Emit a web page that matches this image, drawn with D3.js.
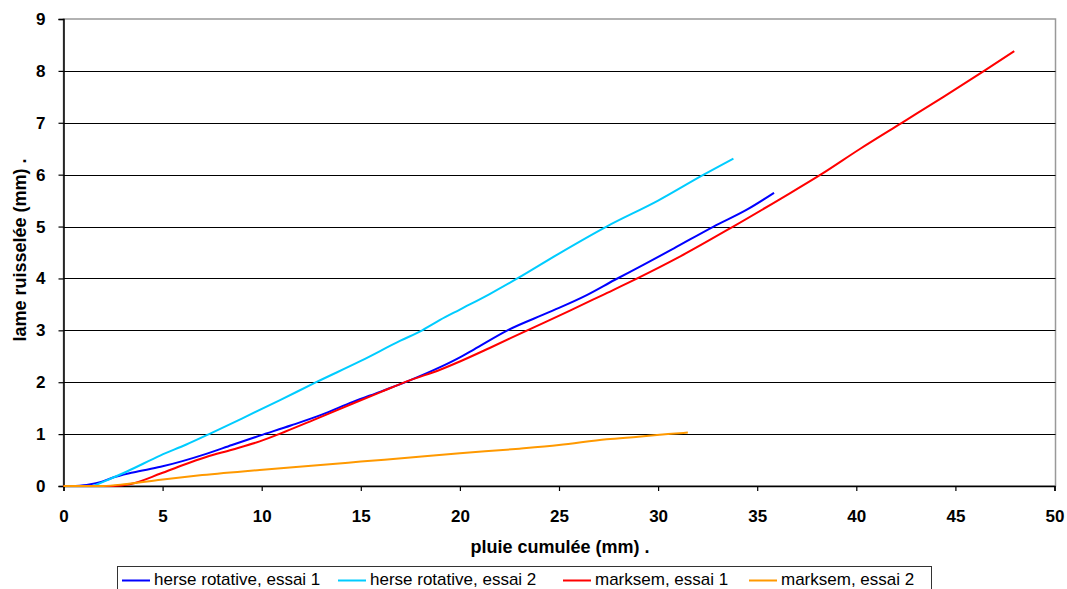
<!DOCTYPE html>
<html>
<head>
<meta charset="utf-8">
<script src="https://cdn.jsdelivr.net/npm/d3@7"></script>
<style>
  html, body { margin: 0; padding: 0; background: #fff; }
  svg { display: block; }
</style>
</head>
<body>
<svg id="chart" width="1067" height="589"></svg>
<script>
// ---- data ----
const seriesNames = ["herse rotative, essai 1", "herse rotative, essai 2", "marksem, essai 1", "marksem, essai 2"];
const seriesColors = ["#0000FF", "#00CCFF", "#FF0000", "#FF9900"];

const herse1X = [0.6, 1.3, 1.9, 2.4, 3.5, 4.9, 6.0, 7.2, 8.5, 9.9, 11.5, 13.0, 14.6, 16.0, 17.5, 19.0, 20.0, 20.7, 22.4, 24.5, 26.4, 27.8, 29.3, 30.8, 32.8, 34.5, 35.85];
const herse1Y = [0.0, 0.03, 0.08, 0.15, 0.26, 0.37, 0.48, 0.62, 0.79, 0.97, 1.17, 1.37, 1.62, 1.82, 2.04, 2.29, 2.48, 2.63, 3.00, 3.35, 3.68, 3.97, 4.27, 4.58, 5.00, 5.33, 5.65];

const herse2X = [1.5, 2.0, 3.2, 4.9, 6.2, 7.4, 9.0, 10.9, 12.8, 15.0, 17.0, 18.1, 19.0, 20.0, 21.5, 22.9, 25.0, 27.4, 30.0, 32.3, 33.8];
const herse2Y = [0.0, 0.08, 0.28, 0.59, 0.80, 1.01, 1.30, 1.65, 2.01, 2.41, 2.80, 3.00, 3.20, 3.40, 3.70, 4.00, 4.48, 5.00, 5.50, 6.00, 6.31];

const marksem1X = [0.0, 2.5, 3.4, 4.9, 6.0, 7.2, 8.5, 9.9, 11.2, 12.6, 14.6, 16.0, 17.5, 19.0, 20.0, 21.5, 23.4, 25.5, 27.2, 28.95, 31.0, 33.7, 36.2, 38.2, 40.2, 42.3, 44.4, 46.45, 47.97];
const marksem1Y = [0.0, 0.0, 0.04, 0.24, 0.40, 0.56, 0.70, 0.86, 1.05, 1.27, 1.59, 1.81, 2.04, 2.24, 2.40, 2.66, 3.00, 3.37, 3.68, 4.00, 4.40, 4.98, 5.54, 6.00, 6.50, 7.00, 7.50, 8.00, 8.38];

const marksem2X = [0.0, 2.0, 3.2, 4.9, 7.0, 9.9, 12.5, 15.0, 17.5, 20.0, 23.0, 25.0, 27.4, 29.0, 30.5, 31.5];
const marksem2Y = [0.0, 0.0, 0.04, 0.12, 0.21, 0.31, 0.39, 0.47, 0.55, 0.63, 0.72, 0.79, 0.90, 0.95, 1.00, 1.03];

const xTicks = [0, 5, 10, 15, 20, 25, 30, 35, 40, 45, 50];
const yTicks = [0, 1, 2, 3, 4, 5, 6, 7, 8, 9];
const xTitle = "pluie cumulée (mm) .";
const yTitle = "lame ruisselée (mm) .";

// ---- layout ----
const FONT = "'Liberation Sans', Arial, sans-serif";
const svg = d3.select("#chart");
const L = 63.5, R = 1054.5, T = 19, B = 486;
const x = d3.scaleLinear().domain([0, 50]).range([L, R]);
const y = d3.scaleLinear().domain([0, 9]).range([B, T]);

// plot border (gray)
svg.append("rect")
  .attr("x", L).attr("y", T).attr("width", R - L + 1).attr("height", B - T)
  .attr("fill", "#fff").attr("stroke", "#999").attr("stroke-width", 1.5);

// gridlines
svg.append("g").selectAll("line")
  .data(yTicks.filter(d => d > 0 && d < 9))
  .join("line")
  .attr("x1", L).attr("x2", R + 1)
  .attr("y1", d => Math.round(y(d)) + 0.5).attr("y2", d => Math.round(y(d)) + 0.5)
  .attr("stroke", "#000").attr("stroke-width", 1.2);

// axes
const yAxis = d3.axisLeft(y).tickValues(yTicks).tickSize(5).tickPadding(13).tickFormat(d3.format("d"));
const xAxis = d3.axisBottom(x).tickValues(xTicks).tickSize(5).tickFormat(d3.format("d"));

const gy = svg.append("g").attr("transform", `translate(${L},0)`).call(yAxis);
const gx = svg.append("g").attr("transform", `translate(0,${B})`).call(xAxis);
gx.selectAll(".tick text").attr("y", 36).attr("dy", null);
[gy, gx].forEach(g => {
  g.select(".domain").attr("stroke", "#000").attr("stroke-width", 1.5);
  g.selectAll(".tick line").attr("stroke", "#000").attr("stroke-width", 1.2);
  g.selectAll(".tick text")
    .attr("fill", "#000")
    .style("font-family", FONT)
    .style("font-size", "17px")
    .style("font-weight", "bold");
});

// lines
const allSeries = [
  { xs: herse1X, ys: herse1Y },
  { xs: herse2X, ys: herse2Y },
  { xs: marksem1X, ys: marksem1Y },
  { xs: marksem2X, ys: marksem2Y }
];
const line = d3.line().curve(d3.curveMonotoneX).x(d => x(d[0])).y(d => y(d[1]));
allSeries.forEach((s, i) => {
  svg.append("path")
    .datum(s.xs.map((v, k) => [v, s.ys[k]]))
    .attr("d", line)
    .attr("fill", "none")
    .attr("stroke", seriesColors[i])
    .attr("stroke-width", 2)
    .attr("stroke-linejoin", "round");
});

// titles
svg.append("text")
  .attr("x", 560).attr("y", 553)
  .attr("text-anchor", "middle")
  .style("font-family", FONT)
  .style("font-size", "18px").style("font-weight", "bold")
  .text(xTitle);

svg.append("text")
  .attr("transform", "translate(26,250) rotate(-90)")
  .attr("text-anchor", "middle")
  .style("font-family", FONT)
  .style("font-size", "18px").style("font-weight", "bold")
  .text(yTitle);

// legend
svg.append("rect")
  .attr("x", 117.5).attr("y", 566.5).attr("width", 814).attr("height", 40)
  .attr("fill", "#fff").attr("stroke", "#333").attr("stroke-width", 1);

const legendX = [122, 338, 563, 749];
const lg = svg.append("g").selectAll("g")
  .data(seriesNames)
  .join("g")
  .attr("transform", (d, i) => `translate(${legendX[i]},0)`);
lg.append("line")
  .attr("x1", 0).attr("x2", 28).attr("y1", 580.5).attr("y2", 580.5)
  .attr("stroke", (d, i) => seriesColors[i]).attr("stroke-width", 2);
lg.append("text")
  .attr("x", 32).attr("y", 584.5)
  .style("font-family", FONT)
  .style("font-size", "17px")
  .text(d => d);
</script>
</body>
</html>
